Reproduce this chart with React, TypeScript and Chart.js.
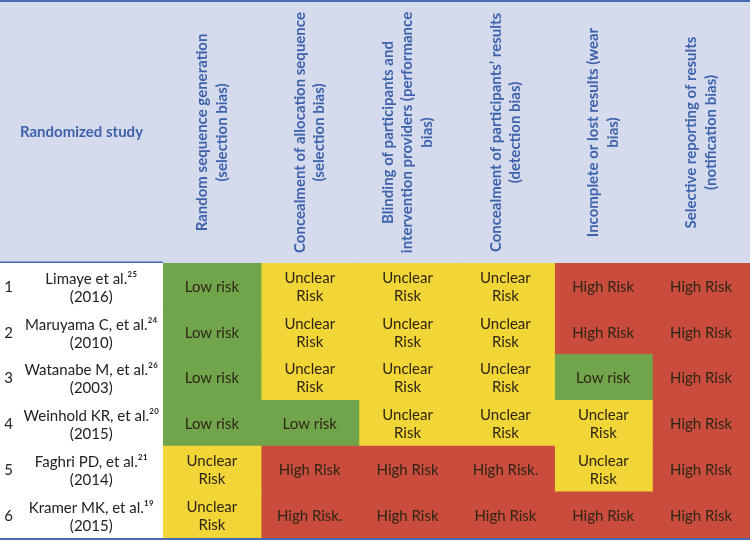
import React, { useEffect, useRef } from "react";
import { Chart, registerables } from "chart.js";

Chart.register(...registerables);

// ---------- data ----------
const rowNumbers = ["1", "2", "3", "4", "5", "6"];

const studies = [
  ["Limaye et al.²⁵", "(2016)"],
  ["Maruyama C, et al.²⁴", "(2010)"],
  ["Watanabe M, et al.²⁶", "(2003)"],
  ["Weinhold KR, et al.²⁰", "(2015)"],
  ["Faghri PD, et al.²¹", "(2014)"],
  ["Kramer MK, et al.¹⁹", "(2015)"],
];

const headerTitle = "Randomized study";

const domains = [
  ["Random sequence generation", "(selection bias)"],
  ["Concealment of allocation sequence", "(selection bias)"],
  ["Blinding of participants and", "intervention providers (performance", "bias)"],
  ["Concealment of participants’ results", "(detection bias)"],
  ["Incomplete or lost results (wear", "bias)"],
  ["Selective reporting of results", "(notification bias)"],
];

// L = low, U = unclear, H = high, "H." = high (printed with a period)
const randomSequence = ["L", "L", "L", "L", "U", "U"];
const allocationConcealment = ["U", "U", "U", "L", "H", "H."];
const blindingParticipants = ["U", "U", "U", "U", "H", "H"];
const blindingOutcome = ["U", "U", "U", "U", "H.", "H"];
const incompleteResults = ["H", "H", "L", "U", "U", "H"];
const selectiveReporting = ["H", "H", "H", "H", "H", "H"];

const domainRisks = [
  randomSequence,
  allocationConcealment,
  blindingParticipants,
  blindingOutcome,
  incompleteResults,
  selectiveReporting,
];

const riskLabels: Record<string, string[]> = {
  L: ["Low risk"],
  U: ["Unclear", "Risk"],
  H: ["High Risk"],
  "H.": ["High Risk."],
};

// ---------- styles ----------
const riskColors: Record<string, string> = {
  L: "#71A54B",
  U: "#F2D536",
  H: "#C94C3C",
};
const FONT = "Lato, 'Open Sans', sans-serif";
const headerBg = "#D5DAEC";
const headerText = "#3D63AD";
const ruleBlue = "#4A6BB0";
const cellText = "#2E2616";

const tablePlugin = {
  id: "tableDecor",
  beforeDraw(chart: any) {
    const { ctx, chartArea, width } = chart;
    ctx.save();
    ctx.fillStyle = "#FFFFFF";
    ctx.fillRect(0, 0, width, chart.height);
    ctx.fillStyle = headerBg;
    ctx.fillRect(0, 0, width, chartArea.top);
    ctx.restore();
  },
  afterDatasetsDraw(chart: any) {
    const { ctx } = chart;
    ctx.save();
    ctx.font = `15px ${FONT}`;
    ctx.fillStyle = cellText;
    ctx.textAlign = "center";
    ctx.textBaseline = "middle";
    const lh = 18;
    chart.data.datasets.forEach((ds: any, c: number) => {
      const meta = chart.getDatasetMeta(c);
      meta.data.forEach((bar: any, i: number) => {
        const p = bar.getProps(["x", "y", "base"], true);
        const cx = (p.x + p.base) / 2;
        const lines = riskLabels[domainRisks[c][i]];
        lines.forEach((t, k) => {
          ctx.fillText(t, cx, p.y + (k - (lines.length - 1) / 2) * lh + 1);
        });
      });
    });
    ctx.restore();
  },
  afterDraw(chart: any) {
    const { ctx, chartArea, width, height } = chart;
    const xs = chart.scales.x;
    const midY = chartArea.top / 2 + 1;
    ctx.save();
    ctx.fillStyle = headerText;
    ctx.font = `bold 15px ${FONT}`;
    ctx.textAlign = "center";
    ctx.textBaseline = "middle";
    ctx.fillText(headerTitle, chartArea.left / 2, midY);
    const lh = 19.5;
    domains.forEach((lines, c) => {
      const cx = xs.getPixelForValue(c + 0.5);
      ctx.save();
      ctx.translate(cx, midY);
      ctx.rotate(-Math.PI / 2);
      lines.forEach((t, k) => {
        ctx.fillText(t, 0, (k - (lines.length - 1) / 2) * lh);
      });
      ctx.restore();
    });
    // rules
    ctx.fillStyle = ruleBlue;
    ctx.fillRect(0, 0, width, 2);
    ctx.fillRect(0, chartArea.top - 1.5, chartArea.left, 1.5);
    ctx.fillRect(0, height - 2, width, 2);
    ctx.restore();
  },
};

export default function App() {
  const ref = useRef<HTMLCanvasElement | null>(null);
  useEffect(() => {
    if (!ref.current) return;
    const chart = new Chart(ref.current, {
      type: "bar",
      data: {
        labels: studies as any,
        datasets: domains.map((d, c) => ({
          label: d.join(" "),
          data: studies.map(() => [c, c + 1]) as any,
          backgroundColor: domainRisks[c].map((r) => riskColors[r[0]]),
          borderWidth: 0,
          barPercentage: 1,
          categoryPercentage: 1,
          grouped: false,
          inflateAmount: 0.6,
          yAxisID: "y",
          xAxisID: "x",
        })),
      },
      options: {
        indexAxis: "y",
        animation: false,
        responsive: false,
        maintainAspectRatio: false,
        devicePixelRatio: 1,
        layout: { padding: { top: 263, bottom: 2, left: 0, right: 0 } },
        plugins: {
          legend: { display: false },
          tooltip: { enabled: false },
        },
        scales: {
          x: { type: "linear", min: 0, max: 6, display: false },
          y: {
            type: "category",
            position: "left",
            offset: true,
            weight: 0,
            grid: { display: false, drawTicks: false },
            border: { display: false },
            ticks: {
              color: "#222222",
              font: { family: FONT, size: 15, lineHeight: 1.2 },
              crossAlign: "center",
              padding: 4,
              labelOffset: 2,
              autoSkip: false,
            },
            afterFit: (s: any) => {
              s.width = 141;
              s.paddingTop = 0;
              s.paddingBottom = 0;
            },
          },
          yNum: {
            type: "category",
            position: "left",
            labels: rowNumbers,
            offset: true,
            weight: 10,
            grid: { display: false, drawTicks: false },
            border: { display: false },
            ticks: {
              color: "#222222",
              font: { family: FONT, size: 15 },
              crossAlign: "near",
              padding: 9,
              labelOffset: 1,
              autoSkip: false,
            },
            afterFit: (s: any) => {
              s.width = 22;
              s.paddingTop = 0;
              s.paddingBottom = 0;
            },
          },
        },
      } as any,
      plugins: [tablePlugin],
    });
    return () => chart.destroy();
  }, []);
  return (
    <div style={{ position: "absolute", left: 0, top: 0, width: 750, height: 540 }}>
      <canvas ref={ref} width={750} height={540} style={{ display: "block" }} />
    </div>
  );
}
